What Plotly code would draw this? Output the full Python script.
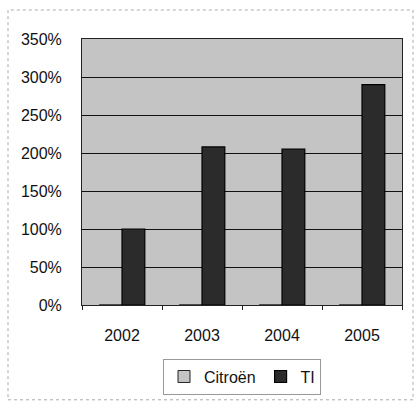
import plotly.graph_objects as go

# Growth index per year (1.0 = 100%)
years = ["2002", "2003", "2004", "2005"]
citroen = [0, 0, 0, 0]
ti = [1.00, 2.08, 2.05, 2.90]

y_ticks = [0, 0.5, 1.0, 1.5, 2.0, 2.5, 3.0, 3.5]
y_labels = ["0%", "50%", "100%", "150%", "200%", "250%", "300%", "350%"]

W, H = 415, 406
ML, MR, MT, MB = 82, 13, 39, 92
PW, PH = W - ML - MR, H - MT - MB

PLOT_BG = "#c4c4c4"
DARK = "#2b2b2b"

fig = go.Figure()
fig.add_trace(go.Bar(
    name="Citroën", x=years, y=citroen,
    marker=dict(color=PLOT_BG, line=dict(color="#222", width=1)),
))
fig.add_trace(go.Bar(
    name="TI", x=years, y=ti,
    marker=dict(color=DARK, line=dict(color="#000", width=1.2)),
))

def px_x(p):
    return (p - ML) / PW

def px_y(p):
    return (H - MB - p) / PH

fig.update_layout(
    width=W, height=H,
    margin=dict(l=ML, r=MR, t=MT, b=MB),
    paper_bgcolor="white",
    plot_bgcolor=PLOT_BG,
    barmode="group",
    bargap=0.43,
    bargroupgap=0,
    font=dict(family="Liberation Sans, Arial, sans-serif", size=16, color="#111"),
    showlegend=True,
    legend=dict(
        orientation="h",
        x=0.5, xanchor="center",
        y=px_y(388), yanchor="middle",
        bordercolor="#999", borderwidth=1,
        bgcolor="white",
        font=dict(size=16),
        itemwidth=30,
        tracegroupgap=0,
    ),
    shapes=[dict(
        type="rect", xref="paper", yref="paper",
        x0=px_x(8), x1=px_x(413), y0=px_y(412), y1=px_y(9),
        line=dict(color="#aaa", width=1, dash="dot"),
        layer="below",
    )],
)

fig.update_xaxes(
    type="category",
    showline=True, linecolor="#222", linewidth=1, mirror=True,
    ticks="outside", tickson="boundaries", ticklen=4, tickcolor="#222",
    ticklabelstandoff=16,
    showgrid=False,
)
fig.update_yaxes(
    range=[0, 3.5],
    tickvals=y_ticks, ticktext=y_labels,
    showline=True, linecolor="#222", linewidth=1, mirror=True,
    ticks="", ticklabelstandoff=16,
    showgrid=True, gridcolor="#111", gridwidth=1,
    zeroline=False,
)

fig.write_html("out.html")
